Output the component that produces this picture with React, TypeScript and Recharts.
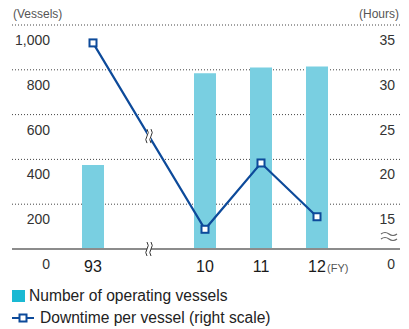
import { ComposedChart, Bar, Line, XAxis, YAxis, CartesianGrid, Legend, ReferenceDot } from 'recharts'

// fiscal years; 'gap' is the empty slot where the axis is broken
const years = ['93', 'gap', '10', '11', '12']
const vessels = [375, null, 785, 810, 815]
const downtime = [33.0, null, 12.2, 19.6, 13.6]
const vesselTicks = [0, 200, 400, 600, 800, 1000]
const hourTicks = [10, 15, 20, 25, 30, 35]

const data = years.map((year, i) => ({ year, vessels: vessels[i], downtime: downtime[i] }))

const FONT = '"Liberation Sans", Arial, sans-serif'
const NAVY = '#0d4a9a'
const BAR_FILL = '#79cfe1'
const LEGEND_FILL = '#1ab9d3'

// small vertical double-wave used to show the break
const BreakMark = (props: any) => {
    const { cx, cy } = props
    const wave = (dx: number) => `M${cx + dx},${cy - 7} q2.5,3.5 0,7 t0,7`
    return (
        <g>
            <rect x={cx - 2} y={cy - 7} width={4} height={14} fill="#fff" />
            <path d={wave(-2)} fill="none" stroke="#333" strokeWidth={1} />
            <path d={wave(2)} fill="none" stroke="#333" strokeWidth={1} />
        </g>
    )
}

const SquareDot = (props: any) => {
    const { cx, cy, value } = props
    if (value == null || cx == null) return <g />
    return <rect x={cx - 3.5} y={cy - 3.5} width={7} height={7} fill="#fff" stroke={NAVY} strokeWidth={2} />
}

const LeftTick = (props: any) => {
    const { x, y, payload } = props
    return (
        <g fontFamily={FONT}>
            {payload.value === 1000 && <text x={x + 1} y={y - 7} fontSize={12} fill="#555">(Vessels)</text>}
            <text x={x + 38} y={y + 20} textAnchor="end" fontSize={14} fill="#333">
                {payload.value.toLocaleString('en-US')}
            </text>
        </g>
    )
}

const RightTick = (props: any) => {
    const { x, y, payload } = props
    const v = payload.value
    return (
        <g fontFamily={FONT}>
            {v === 35 && <text x={x - 1} y={y - 7} textAnchor="end" fontSize={12} fill="#555">(Hours)</text>}
            <text x={x - 5} y={y + 20} textAnchor="end" fontSize={14} fill="#333">{v === 10 ? 0 : v}</text>
            {v === 10 && (
                <g fill="none" stroke="#666" strokeWidth={1.2}>
                    <path d={`M${x - 19},${y - 15} q4,-3 8,0 t8,0`} />
                    <path d={`M${x - 19},${y - 10} q4,-3 8,0 t8,0`} />
                </g>
            )}
        </g>
    )
}

const YearTick = (props: any) => {
    const { x, y, payload } = props
    if (payload.value === 'gap') return <g />
    return (
        <g fontFamily={FONT}>
            <text x={x} y={y + 23} textAnchor="middle" fontSize={16} fill="#1a1a1a">{payload.value}</text>
            {payload.value === '12' && <text x={x + 10} y={y + 23} fontSize={11} fill="#555">(FY)</text>}
        </g>
    )
}

const LegendBox = (props: any) => {
    // bars first, then the line
    const items = [...(props.payload || [])].sort((a: any, b: any) => (a.type === 'rect' ? -1 : 0) - (b.type === 'rect' ? -1 : 0))
    return (
        <div style={{ height: 50, paddingTop: 6, boxSizing: 'border-box', fontFamily: FONT, fontSize: 15.6, color: '#222' }}>
            {items.map((item: any) => (
                <div key={item.value} style={{ display: 'flex', alignItems: 'center', height: 22 }}>
                    {item.type === 'rect' ? (
                        <span style={{ width: 13, height: 12, background: LEGEND_FILL, marginRight: 4 }} />
                    ) : (
                        <svg width={22} height={10} style={{ marginRight: 6 }}>
                            <line x1={0} y1={5} x2={22} y2={5} stroke={NAVY} strokeWidth={2} />
                            <rect x={7.5} y={1.5} width={7} height={7} fill="#fff" stroke={NAVY} strokeWidth={2} />
                        </svg>
                    )}
                    <span>{item.value}</span>
                </div>
            ))}
        </div>
    )
}

const App = () => {
    const breakLevel = ((downtime[0] as number) + (downtime[2] as number)) / 2
    return (
        <div style={{ position: 'absolute', left: 0, top: 0, fontFamily: FONT }}>
            <ComposedChart width={409} height={329} data={data} margin={{ top: 25, right: 9, left: 12, bottom: 0 }}>
                <CartesianGrid yAxisId="left" vertical={false} stroke="#444" strokeDasharray="1 2" />
                <XAxis
                    dataKey="year"
                    interval={0}
                    height={30}
                    padding={{ left: 53, right: 55 }}
                    axisLine={{ stroke: '#8c8c8c', strokeWidth: 2 }}
                    tickLine={false}
                    tickSize={0}
                    tickMargin={0}
                    tick={<YearTick />}
                />
                <YAxis
                    yAxisId="left"
                    mirror
                    domain={[0, 1000]}
                    ticks={vesselTicks}
                    axisLine={false}
                    tickLine={false}
                    tickSize={0}
                    tickMargin={0}
                    tick={<LeftTick />}
                />
                <YAxis
                    yAxisId="right"
                    orientation="right"
                    mirror
                    domain={[10, 35]}
                    ticks={hourTicks}
                    axisLine={false}
                    tickLine={false}
                    tickSize={0}
                    tickMargin={0}
                    tick={<RightTick />}
                />
                <Legend layout="horizontal" verticalAlign="bottom" align="left" content={<LegendBox />} />
                <Bar yAxisId="left" dataKey="vessels" name="Number of operating vessels" legendType="rect"
                    fill={BAR_FILL} barSize={22} isAnimationActive={false} />
                <Line yAxisId="right" dataKey="downtime" name="Downtime per vessel (right scale)" legendType="line"
                    stroke={NAVY} strokeWidth={2.2} connectNulls dot={<SquareDot />} activeDot={false}
                    isAnimationActive={false} />
                <ReferenceDot yAxisId="left" x="gap" y={0} shape={<BreakMark />} />
                <ReferenceDot yAxisId="right" x="gap" y={breakLevel} shape={<BreakMark />} />
            </ComposedChart>
        </div>
    )
}

export default App
